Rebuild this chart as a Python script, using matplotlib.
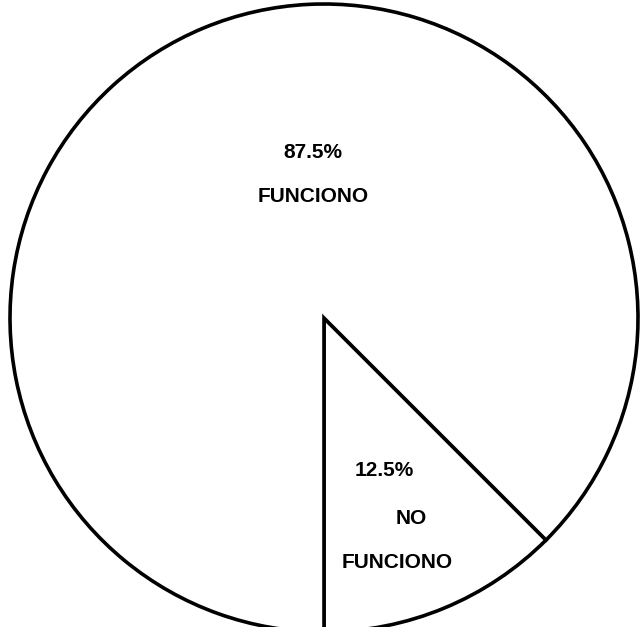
import matplotlib
matplotlib.use('Agg')

import matplotlib.pyplot as plt

# porcentajes de funcionamiento
labels = ['NO\nFUNCIONO', 'FUNCIONO']
values = [12.5, 87.5]

fig = plt.figure(figsize=(6.41, 6.27), dpi=100)
ax = fig.add_axes([0, 0, 1, 1])

# pastel en coordenadas de pixel, el trozo chico empieza abajo
ax.pie(values, startangle=-90, counterclock=True,
       center=(324, 309), radius=314,
       colors=['white', 'white'],
       wedgeprops=dict(edgecolor='black', linewidth=2.6),
       frame=True)
ax.set_xlim(0, 641)
ax.set_ylim(0, 627)
ax.set_aspect('equal')
ax.axis('off')

font = dict(family='Liberation Sans', fontweight='bold', fontsize=15,
            ha='center', va='center', color='black')

# etiquetas
ax.text(313, 627 - 152, '%.1f%%' % values[1], **font)
ax.text(313, 627 - 196, labels[1], **font)

ax.text(384, 627 - 470, '%.1f%%' % values[0], **font)
ax.text(411, 627 - 518, labels[0].split('\n')[0], **font)
ax.text(397, 627 - 563, labels[0].split('\n')[1], **font)

plt.savefig('out.png', dpi=100)
